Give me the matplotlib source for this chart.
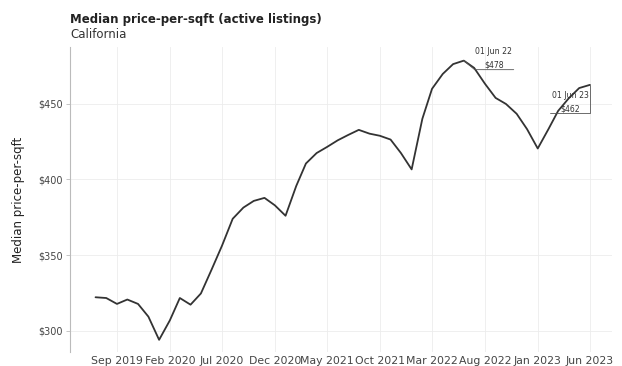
import matplotlib
matplotlib.use("Agg")
import matplotlib.pyplot as plt
import matplotlib.dates as mdates
import pandas as pd
import numpy as np

# ---- data (monthly median price-per-sqft) ----
dates = pd.date_range("2019-07-01", "2023-06-01", freq="MS")
prices = [322.2, 321.7, 317.8, 320.7, 317.8, 309.4, 294.1, 306.9, 321.7, 317.3,
          324.7, 340.5, 356.2, 374.0, 381.4, 385.8, 387.8, 382.9, 376.0, 395.7,
          410.5, 417.4, 421.4, 425.8, 429.3, 432.7, 430.2, 428.8, 426.3, 417.4,
          406.6, 440.0, 459.8, 469.6, 476.1, 478.4, 473.6, 463.2, 453.8, 449.8,
          443.3, 433.2, 420.4, 433.2, 445.2, 453.6, 460.3, 462.4]
dates = dates[:len(prices)]

tick_dates = pd.to_datetime(["2019-09-01", "2020-02-01", "2020-07-01", "2020-12-01",
                             "2021-05-01", "2021-10-01", "2022-03-01", "2022-08-01",
                             "2023-01-01", "2023-06-01"])
y_ticks = [300, 350, 400, 450]

title = "Median price-per-sqft (active listings)"
subtitle = "California"
y_label = "Median price-per-sqft"

s = pd.Series(prices, index=dates)
peak_date = s.idxmax()
peak_val = s.max()
end_date = s.index[-1]
end_val = s.iloc[-1]

# ---- figure ----
fig = plt.figure(figsize=(6.22, 3.66), dpi=100)
ax = fig.add_axes([0.1125, 0.038, 0.872, 0.834])

ax.plot(s.index, s.values, color="#333333", lw=1.3, solid_joinstyle="round",
        solid_capstyle="round")

ax.set_xlim(pd.Timestamp("2019-04-18"), pd.Timestamp("2023-08-05"))
ax.set_ylim(286, 487.5)

ax.set_xticks(tick_dates)
ax.xaxis.set_major_formatter(mdates.DateFormatter("%b %Y"))
ax.set_yticks(y_ticks)
ax.set_yticklabels([f"${v}" for v in y_ticks])

ax.tick_params(axis="x", length=0, pad=3, labelsize=7.8, labelcolor="#444444")
ax.tick_params(axis="y", length=3, width=0.6, color="#bbbbbb", pad=2,
               labelsize=7, labelcolor="#444444")

for sp in ["top", "right", "bottom"]:
    ax.spines[sp].set_visible(False)
ax.spines["left"].set_color("#bbbbbb")
ax.spines["left"].set_linewidth(0.8)

ax.grid(True, which="major", color="#ececec", lw=0.6)
ax.set_axisbelow(True)

ax.set_ylabel(y_label, fontsize=8.5, color="#222222", labelpad=10)

fig.text(0.1125, 0.937, title, fontsize=8.5, fontweight="bold", color="#222222",
         ha="left", va="baseline")
fig.text(0.1125, 0.895, subtitle, fontsize=8.5, color="#333333", ha="left",
         va="baseline")

# ---- annotations ----
lab_kw = dict(fontsize=5.6, color="#333333", ha="center", va="bottom",
              textcoords="offset points", linespacing=1.6)
line_kw = dict(arrowstyle="-", color="#555555", lw=0.6, shrinkA=0, shrinkB=0)

t1 = ax.annotate(f"{peak_date:%d %b %y}\n${peak_val:.0f}", xy=(peak_date, peak_val),
                 xytext=(21.6, -6.5), **lab_kw)
ax.annotate("", xy=(1.04, 0), xycoords=t1, xytext=(-0.02, 0), textcoords=t1,
            arrowprops=line_kw)
ax.annotate("", xy=(peak_date, peak_val), xytext=(-0.02, 0), textcoords=t1,
            arrowprops=line_kw)

t2 = ax.annotate(f"{end_date:%d %b %y}\n${end_val:.0f}", xy=(end_date, end_val),
                 xytext=(-14, -20.5), **lab_kw)
ax.annotate("", xy=(end_date, end_val), xytext=(-0.06, 0), textcoords=t2,
            arrowprops=dict(connectionstyle="angle,angleA=0,angleB=90,rad=0",
                            **line_kw))

fig.savefig("out.png", dpi=100)
